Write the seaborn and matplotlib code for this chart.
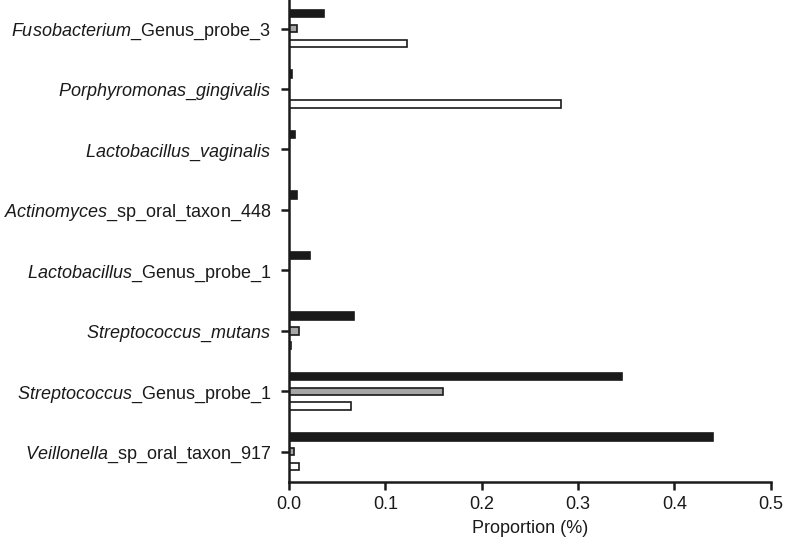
import matplotlib
matplotlib.use("Agg")
import matplotlib.pyplot as plt
import seaborn as sns
import pandas as pd

categories = [
    r"$\mathit{Fusobacterium}$_Genus_probe_3",
    r"$\mathit{Porphyromonas\_gingivalis}$",
    r"$\mathit{Lactobacillus\_vaginalis}$",
    r"$\mathit{Actinomyces}$_sp_oral_taxon_448",
    r"$\mathit{Lactobacillus}$_Genus_probe_1",
    r"$\mathit{Streptococcus\_mutans}$",
    r"$\mathit{Streptococcus}$_Genus_probe_1",
    r"$\mathit{Veillonella}$_sp_oral_taxon_917",
]
series_names = ["Series 1", "Series 2", "Series 3"]
series1 = [0.036, 0.003, 0.006, 0.008, 0.022, 0.068, 0.346, 0.440]
series2 = [0.008, 0.000, 0.000, 0.000, 0.000, 0.010, 0.160, 0.005]
series3 = [0.123, 0.282, 0.000, 0.000, 0.000, 0.002, 0.064, 0.011]
xticks = [0.0, 0.1, 0.2, 0.3, 0.4, 0.5]

sns.set_style("white")
plt.rcParams["font.family"] = ["Liberation Sans", "DejaVu Sans"]
plt.rcParams["mathtext.fontset"] = "custom"
plt.rcParams["mathtext.rm"] = "Liberation Sans"
plt.rcParams["mathtext.it"] = "Liberation Sans:italic"
plt.rcParams["mathtext.bf"] = "Liberation Sans:bold"
plt.rcParams["text.color"] = "#1a1a1a"
plt.rcParams["xtick.color"] = "#1a1a1a"
plt.rcParams["ytick.color"] = "#1a1a1a"
plt.rcParams["axes.labelcolor"] = "#1a1a1a"

rows = []
for name, vals in zip(series_names, [series1, series2, series3]):
    for c, v in zip(categories, vals):
        rows.append({"category": c, "series": name, "value": v})
df = pd.DataFrame(rows)

fig = plt.figure(figsize=(7.85, 5.39), dpi=100)
ax = fig.add_axes([0.368, 0.1058, 0.614, 0.894])

palette = {"Series 1": "#1a1a1a", "Series 2": "#a6a6a6", "Series 3": "#ffffff"}
sns.barplot(data=df, x="value", y="category", hue="series", order=categories,
            hue_order=series_names, palette=palette, orient="h",
            width=0.74, gap=0.5, edgecolor="#1a1a1a", linewidth=1.2,
            saturation=1, legend=False, ax=ax, errorbar=None)

ax.set_xlim(0, 0.5)
ax.set_ylim(7.5, -0.47)
ax.set_xticks(xticks)
ax.set_xticklabels([f"{t:.1f}" for t in xticks])
ax.set_xlabel("Proportion (%)", fontsize=13, labelpad=5)
ax.set_ylabel("")
for s in ["top", "right"]:
    ax.spines[s].set_visible(False)
for s in ["left", "bottom"]:
    ax.spines[s].set_linewidth(1.8)
    ax.spines[s].set_color("#1a1a1a")
ax.tick_params(axis="both", which="major", direction="out", length=6, width=1.8,
               color="#1a1a1a", labelsize=13, left=True, bottom=True)
ax.tick_params(axis="y", pad=7)
ax.tick_params(axis="x", pad=4)

fig.savefig("out.png", dpi=100)
